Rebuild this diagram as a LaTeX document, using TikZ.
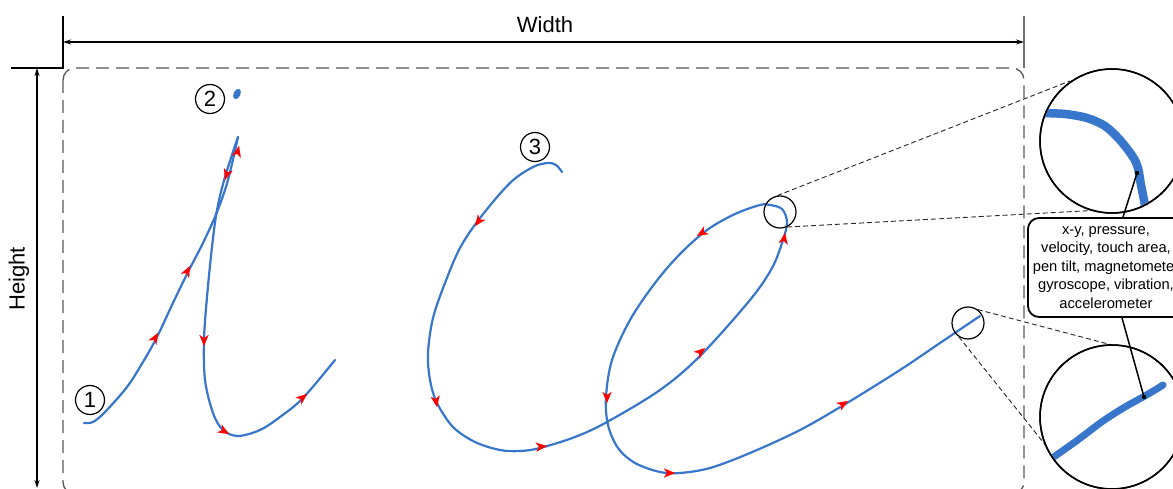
\documentclass[tikz,border=0pt]{standalone}
\usepackage{fontspec}
\setmainfont{Liberation Sans}
\usetikzlibrary{arrows.meta,calc}
\definecolor{ink}{RGB}{56,118,204}
\begin{document}
\begin{tikzpicture}[x=1pt,y=-1pt,
  stroke/.style={draw=ink, line width=2.2pt, line cap=round, line join=round},
  flow/.style={red, line width=0.01pt, -{Stealth[length=11pt,width=9pt,inset=3pt]}},
  dim/.style={line width=1.1pt, {Stealth[length=8pt,width=5pt]}-{Stealth[length=8pt,width=5pt]}},
  frame/.style={draw=black!65, line width=1.3pt, dash pattern=on 13pt off 7pt, rounded corners=12pt},
  zoomline/.style={black!85, line width=0.9pt, dash pattern=on 5pt off 3pt},
  smallc/.style={circle, draw, line width=1.2pt, minimum size=32pt, inner sep=0pt},
  bigc/.style={circle, draw, line width=1.5pt, minimum size=144pt, inner sep=0pt, fill=white},
  ring/.style={circle, draw, line width=1.5pt, minimum size=144pt, inner sep=0pt},
  num/.style={circle, draw, line width=1.2pt, minimum size=29pt, inner sep=0pt, font=\fontsize{22}{22}\selectfont},
  fat/.style={draw=ink, line width=8.5pt, line cap=round, line join=round},
]
\useasboundingbox (0,0) rectangle (1173,489);
\clip (0,0) rectangle (1173,489);

% frame and dimensions
\draw[frame] (63,68) rectangle (1024,494);
\draw[line width=1.1pt] (63,16) -- (63,68) -- (11,68);
\draw[line width=1.1pt, black!55] (1024,16) -- (1024,68);
\coordinate (wl) at (63,42);
\coordinate (wr) at (1024,42);
\draw[dim] (wl) -- (wr);
\node[font=\fontsize{22}{22}\selectfont] (wlabel) at (545,25) {Width};
\coordinate (ht) at (37,68);
\coordinate (hb) at (37,488);
\draw[dim] (ht) -- (hb);
\node[font=\fontsize{22}{22}\selectfont, rotate=90] (hlabel) at (19,279) {Height};

% stroke 1
\draw[stroke] plot[smooth, tension=0.55] coordinates {(84,423) (93,422) (105,412) (127,387) (143,362) (157,337) (172,305) (188,272) (203,243) (217,212) (228,180) (238,137)};
\draw[stroke] plot[smooth, tension=0.55] coordinates {(238,137) (225,177) (217,210) (212,247) (207,297) (204,340) (205,380) (213,413) (223,430) (238,436) (260,430) (280,417) (303,398) (335,360)};
\fill[ink, rotate around={-25:(237,94)}] (237,94) ellipse[x radius=3.5, y radius=5.5];

% stroke 2
\draw[stroke] plot[smooth, tension=0.55] coordinates {(562,172) (556,165) (548,163) (533,167) (510,183) (480,218) (460,248) (445,283) (433,318) (428,353) (430,380) (437,403) (453,427) (475,442) (500,450) (520,451) (540,448) (575,437) (607,422) (660,390) (700,356) (750,300) (772,268) (783,240) (787,222) (782,209) (770,205) (760,205) (735,214) (707,230) (680,254) (655,283) (630,320) (612,360) (606,397) (608,425) (618,448) (635,463) (660,472) (680,473) (710,468) (750,453) (800,430) (847,403) (900,370) (940,343) (980,316)};

% direction arrows
\draw[flow] (156.5,335.6) -- (158,333);
\draw[flow] (188.6,268.7) -- (190,266);
\draw[flow] (238.3,148.9) -- (239,146);
\draw[flow] (225.9,177.1) -- (225,180);
\draw[flow] (204,343) -- (204,346);
\draw[flow] (226.4,432.5) -- (229,434);
\draw[flow] (304.7,395.9) -- (307,394);
\draw[flow] (476.8,223.6) -- (475,226);
\draw[flow] (436.5,404) -- (437,407);
\draw[flow] (544,446.3) -- (547,446);
\draw[flow] (702.7,350) -- (705,348);
\draw[flow] (784.5,236) -- (785,233);
\draw[flow] (699.6,234.4) -- (697,236);
\draw[flow] (607,400) -- (607,403);
\draw[flow] (672,473) -- (675,473);
\draw[flow] (845.4,402.6) -- (848,401);

% stroke numbers
\node[num] (n1) at (90,400) {1};
\node[num] (n2) at (210,99) {2};
\node[num] (n3) at (535,147) {3};

% magnifier circles
\node[smallc] (z1) at (780,212) {};
\node[smallc] (z2) at (968,323) {};
\draw[zoomline] (z1.100) -- (1070,81);
\draw[zoomline] (z1.-65) -- (1138,208);
\draw[zoomline] (z2.54) -- (1112,345);
\draw[zoomline] (z2.236) -- (1047,447);
\node[bigc] (Z1) at (1112,141) {};
\node[bigc] (Z2) at (1112,417) {};
\begin{scope}
  \clip (Z1.center) circle[radius=71];
  \draw[fat] plot[smooth, tension=0.5] coordinates {(1040,113) (1065,114) (1087,118) (1105,126) (1120,140) (1133,157) (1138,168) (1141,185) (1146,210)};
\end{scope}
\begin{scope}
  \clip (Z2.center) circle[radius=71];
  \draw[draw=ink, line width=7pt, line cap=round] plot[smooth, tension=0.5] coordinates {(1045,463) (1075,442) (1103,421) (1125,407) (1143,397) (1155,390) (1163,385)};
\end{scope}
\node[ring] (R1) at (Z1.center) {};
\node[ring] (R2) at (Z2.center) {};

% info box
\node[draw, fill=white, line width=1.8pt, rounded corners=11pt, minimum width=156pt, minimum height=99pt, inner sep=0pt, align=center, font=\fontsize{14.7}{18.5}\selectfont] (info) at (1106,267.5) {x-y, pressure,\\velocity, touch area,\\pen tilt, magnetometer\\gyroscope, vibration,\\accelerometer};
\coordinate (d1) at (1137,173);
\coordinate (d2) at (1144,397);
\fill (d1) circle[radius=2.2];
\fill (d2) circle[radius=2.2];
\draw[line width=1.5pt] (d1) -- ($(info.north)+(17,0)$);
\draw[line width=1.5pt] (d2) -- ($(info.south)+(16,0)$);
\end{tikzpicture}
\end{document}
